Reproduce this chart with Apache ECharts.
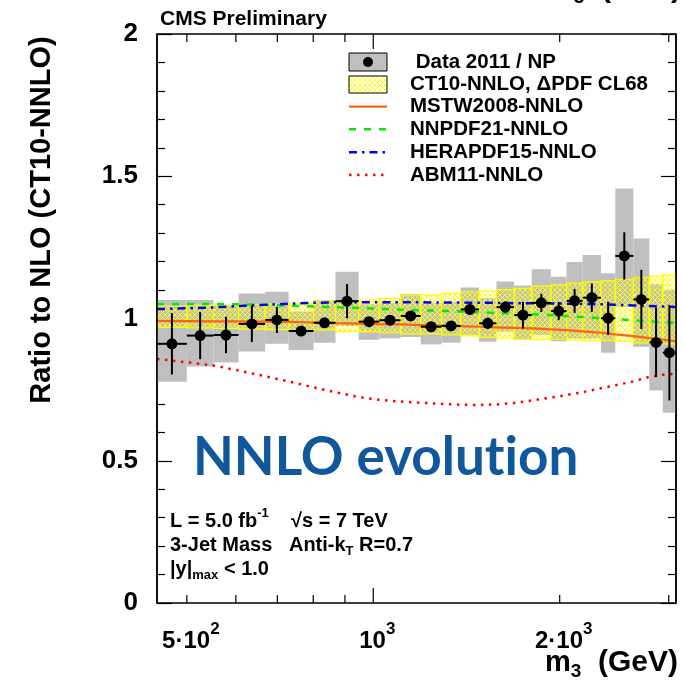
<!DOCTYPE html>
<html><head><meta charset="utf-8">
<script src="https://cdn.jsdelivr.net/npm/echarts@6/dist/echarts.min.js"></script>
<style>html,body{margin:0;padding:0;background:#fff}#c{width:683px;height:688px}</style>
</head><body><div id="c"></div>
<script>
// ---------------- data ----------------
const binEdges = [447.5, 500, 552, 606, 669, 730, 801, 869, 947, 1023, 1107, 1193, 1289, 1384, 1482, 1581, 1688, 1803, 1935, 2052, 2178, 2332, 2459, 2630, 2791, 2934, 3082];
const dataRatio = [0.911, 0.940, 0.942, 0.981, 0.995, 0.956, 0.985, 1.061, 0.989, 0.994, 1.009, 0.971, 0.974, 1.032, 0.983, 1.040, 1.012, 1.055, 1.026, 1.062, 1.073, 1.001, 1.220, 1.067, 0.916, 0.880];
const statErr = [0.108, 0.083, 0.064, 0.064, 0.046, 0.015, 0.015, 0.060, 0.015, 0.015, 0.018, 0.015, 0.015, 0.020, 0.020, 0.020, 0.047, 0.032, 0.032, 0.042, 0.050, 0.058, 0.083, 0.104, 0.122, 0.168];
const sysUp = [1.065, 1.065, 1.047, 1.088, 1.094, 1.025, 1.065, 1.164, 1.050, 1.055, 1.086, 1.054, 1.058, 1.109, 1.072, 1.130, 1.116, 1.173, 1.147, 1.199, 1.223, 1.159, 1.457, 1.281, 1.120, 1.100];
const sysLo = [0.778, 0.831, 0.845, 0.884, 0.911, 0.889, 0.915, 0.974, 0.925, 0.930, 0.935, 0.909, 0.915, 0.942, 0.918, 0.953, 0.925, 0.942, 0.920, 0.930, 0.930, 0.880, 1.040, 0.901, 0.747, 0.669];
const ct10Up = [1.044, 1.047, 1.047, 1.049, 1.051, 1.053, 1.061, 1.059, 1.065, 1.071, 1.082, 1.082, 1.088, 1.094, 1.096, 1.102, 1.106, 1.114, 1.118, 1.124, 1.129, 1.132, 1.138, 1.145, 1.149, 1.153];
const ct10Lo = [0.969, 0.967, 0.965, 0.963, 0.961, 0.957, 0.960, 0.954, 0.954, 0.950, 0.946, 0.946, 0.942, 0.939, 0.934, 0.931, 0.928, 0.926, 0.927, 0.925, 0.922, 0.922, 0.920, 0.914, 0.913, 0.911];

const curveMass = [447.5, 500, 552, 606, 669, 730, 801, 869, 947, 1023, 1107, 1193, 1289, 1384, 1482, 1581, 1688, 1803, 1935, 2052, 2178, 2332, 2459, 2630, 2791, 2934, 3082];
const mstw    = [0.992, 0.991, 0.990, 0.990, 0.989, 0.988, 0.986, 0.984, 0.982, 0.980, 0.979, 0.977, 0.975, 0.973, 0.971, 0.969, 0.967, 0.965, 0.962, 0.959, 0.955, 0.950, 0.944, 0.938, 0.931, 0.926, 0.920];
const nnpdf   = [1.051, 1.051, 1.051, 1.050, 1.048, 1.045, 1.042, 1.040, 1.037, 1.034, 1.031, 1.029, 1.027, 1.025, 1.022, 1.019, 1.017, 1.015, 1.012, 1.009, 1.005, 1.001, 0.998, 0.994, 0.990, 0.987, 0.985];
const herapdf = [1.033, 1.036, 1.039, 1.044, 1.048, 1.052, 1.055, 1.057, 1.057, 1.057, 1.057, 1.057, 1.056, 1.056, 1.055, 1.055, 1.054, 1.054, 1.053, 1.052, 1.051, 1.050, 1.048, 1.046, 1.044, 1.042, 1.040];
const abm     = [0.858, 0.846, 0.835, 0.817, 0.797, 0.779, 0.758, 0.741, 0.724, 0.714, 0.708, 0.704, 0.700, 0.697, 0.696, 0.698, 0.703, 0.712, 0.722, 0.731, 0.741, 0.755, 0.765, 0.779, 0.795, 0.802, 0.806];

const xMin = 447.5, xMax = 3082;
const xTickValues = [500, 600, 700, 800, 900, 1000, 2000, 3000];
const xMajorTicks = [1000];
const xLabelValues = [500, 1000, 2000];
const xLabelMant = ['5\u00b710', '10', '2\u00b710'];
const xLabelExp = ['2', '3', '3'];

const legendLabels = [' Data 2011 / NP', 'CT10-NNLO, \u0394PDF CL68', 'MSTW2008-NNLO', 'NNPDF21-NNLO', 'HERAPDF15-NNLO', 'ABM11-NNLO'];

// ---------------- helpers ----------------
const FAM = '"Liberation Sans", Arial, Helvetica, sans-serif';
const mctx = document.createElement('canvas').getContext('2d');
function tw(t, font) { mctx.font = font; return mctx.measureText(t).width; }
function run(pieces, x0, y0, align, color, z) {
  const fonts = pieces.map(p => 'bold ' + p.size + 'px ' + FAM);
  const widths = pieces.map((p, i) => tw(p.t, fonts[i]));
  const total = widths.reduce((a, b) => a + b, 0);
  let x = align === 'center' ? x0 - total / 2 : (align === 'right' ? x0 - total : x0);
  return pieces.map((p, i) => {
    const el = {type: 'text', x: x, y: y0 + (p.dy || 0), z: z || 10,
      style: {text: p.t, font: fonts[i], fill: color || '#000', textAlign: 'left', textVerticalAlign: 'middle', align: 'left', verticalAlign: 'middle'}};
    x += widths[i];
    return el;
  });
}

// hatch pattern
const pat = document.createElement('canvas'); pat.width = 5; pat.height = 5;
const pc = pat.getContext('2d'); pc.fillStyle = '#ffff00';
for (let i = 0; i < 5; i++) { pc.fillRect(i, i, 1, 1); pc.fillRect(4 - i, i, 1, 1); }
const hatch = {image: pat, repeat: 'repeat'};

// ---------------- series data ----------------
const nb = dataRatio.length;
const sysData = [], ctData = [], ptData = [];
for (let i = 0; i < nb; i++) {
  const lo = binEdges[i], hi = binEdges[i + 1];
  sysData.push([lo, hi, sysLo[i], sysUp[i]]);
  ctData.push([lo, hi, ct10Lo[i], ct10Up[i]]);
  ptData.push([Math.sqrt(lo * hi), dataRatio[i], statErr[i], lo, hi]);
}
const zip = (xs, ys) => xs.map((x, i) => [x, ys[i]]);

function boxRender(fill, stroke) {
  return function (params, api) {
    const p1 = api.coord([api.value(0), api.value(3)]);
    const p2 = api.coord([api.value(1), api.value(2)]);
    const st = {fill: fill};
    if (stroke) { st.stroke = stroke; st.lineWidth = 1.2; }
    return {type: 'rect', shape: {x: p1[0], y: p1[1], width: p2[0] - p1[0], height: p2[1] - p1[1]}, style: st};
  };
}

const yAxisCommon = {
  type: 'value', min: 0, max: 2, interval: 0.5,
  axisLine: {show: true, lineStyle: {color: '#000', width: 1.5}},
  axisTick: {show: true, inside: true, length: 15, lineStyle: {color: '#000', width: 1.2}},
  minorTick: {show: true, splitNumber: 5, length: 8, lineStyle: {color: '#000', width: 1.2}},
  splitLine: {show: false}, minorSplitLine: {show: false}
};

const option = {
  animation: false,
  backgroundColor: '#fff',
  grid: {left: 157, right: 7, top: 34, bottom: 85, show: false},
  xAxis: {type: 'log', logBase: 10, min: xMin, max: xMax,
    axisLine: {show: false}, axisTick: {show: false}, axisLabel: {show: false}, splitLine: {show: false}, minorTick: {show: false}},
  yAxis: [
    Object.assign({}, yAxisCommon, {position: 'left',
      axisLabel: {show: true, margin: 19, color: '#000', fontSize: 26, fontWeight: 'bold', fontFamily: FAM}}),
    Object.assign({}, yAxisCommon, {position: 'right', axisLabel: {show: false}})
  ],
  series: [
    {type: 'custom', name: 'sys', z: 1, clip: true, data: sysData, renderItem: boxRender('#bfbfbf'), encode: {x: [0, 1], y: [2, 3]}},
    {type: 'custom', name: 'CT10', z: 2, clip: true, data: ctData, renderItem: boxRender(hatch, '#ffff00'), encode: {x: [0, 1], y: [2, 3]}},
    {type: 'line', name: 'MSTW', z: 3, data: zip(curveMass, mstw), showSymbol: false, symbol: 'none',
      lineStyle: {color: '#ff6210', width: 2.2}},
    {type: 'line', name: 'NNPDF', z: 3, data: zip(curveMass, nnpdf), showSymbol: false, symbol: 'none',
      lineStyle: {color: '#00ee00', width: 2.5, type: [7, 8]}},
    {type: 'line', name: 'HERAPDF', z: 3, data: zip(curveMass, herapdf), showSymbol: false, symbol: 'none',
      lineStyle: {color: '#0000ff', width: 2.5, type: [8, 5, 2.5, 5]}},
    {type: 'line', name: 'ABM', z: 3, data: zip(curveMass, abm), showSymbol: false, symbol: 'none',
      lineStyle: {color: '#ff0000', width: 2.5, type: [2.5, 5.5]}},
    {type: 'custom', name: 'data', z: 5, clip: false, data: ptData, encode: {x: 0, y: 1},
      renderItem: function (params, api) {
        const c = api.coord([api.value(0), api.value(1)]);
        const l = api.coord([api.value(3), api.value(1)]);
        const h = api.coord([api.value(4), api.value(1)]);
        const t = api.coord([api.value(0), api.value(1) + api.value(2)]);
        const b = api.coord([api.value(0), api.value(1) - api.value(2)]);
        return {type: 'group', children: [
          {type: 'line', shape: {x1: l[0], y1: c[1], x2: h[0], y2: c[1]}, style: {stroke: '#000', lineWidth: 2}},
          {type: 'line', shape: {x1: c[0], y1: t[1], x2: c[0], y2: b[1]}, style: {stroke: '#000', lineWidth: 2}},
          {type: 'circle', shape: {cx: c[0], cy: c[1], r: 5.5}, style: {fill: '#000'}}
        ]};
      }},
    {type: 'custom', name: 'frame', z: 8, clip: false, data: [[xMin, 0, xMax, 2]], encode: {x: [0, 2], y: [1, 3]},
      renderItem: function (params, api) {
        const a = api.coord([api.value(0), api.value(3)]);
        const b = api.coord([api.value(2), api.value(1)]);
        return {type: 'rect', shape: {x: a[0], y: a[1], width: b[0] - a[0], height: b[1] - a[1]}, style: {fill: 'none', stroke: '#000', lineWidth: 1.5}};
      }},
    {type: 'custom', name: 'xticks', z: 8, clip: false, data: xTickValues.map(v => [v, 0]), encode: {x: 0, y: 1},
      renderItem: function (params, api) {
        const v = api.value(0);
        const bot = api.coord([v, 0]), top = api.coord([v, 2]);
        const len = xMajorTicks.indexOf(v) >= 0 ? 15 : 8;
        const ch = [
          {type: 'line', shape: {x1: bot[0], y1: bot[1], x2: bot[0], y2: bot[1] - len}, style: {stroke: '#000', lineWidth: 1.2}},
          {type: 'line', shape: {x1: top[0], y1: top[1], x2: top[0], y2: top[1] + len}, style: {stroke: '#000', lineWidth: 1.2}}
        ];
        const li = xLabelValues.indexOf(v);
        if (li >= 0) {
          const els = run([{t: xLabelMant[li], size: 24}, {t: xLabelExp[li], size: 17, dy: -12}], bot[0] + 4, bot[1] + 38, 'center');
          els.forEach(e => ch.push(e));
        }
        return {type: 'group', children: ch};
      }}
  ],
  graphic: []
};

const g = [];
// titles
g.push({type: 'text', x: 160, y: 19, style: {text: 'CMS Preliminary', font: 'bold 21px ' + FAM, fill: '#000', textAlign: 'left', textVerticalAlign: 'middle'}});
g.push({type: 'text', x: 42, y: 220, rotation: Math.PI / 2, style: {text: 'Ratio to NLO (CT10-NNLO)', font: 'bold 29px ' + FAM, fill: '#000', textAlign: 'center', textVerticalAlign: 'middle'}});
const xTitle = [{t: 'm', size: 29}, {t: '3', size: 19, dy: 9}, {t: '  (GeV)', size: 30}];
run(xTitle, 545, 663, 'left').forEach(e => g.push(e));
run(xTitle, 548, -11, 'left').forEach(e => g.push(e));
// annotations
run([{t: 'L = 5.0 fb', size: 20}, {t: '-1', size: 13, dy: -8}, {t: '    \u221as = 7 TeV', size: 20}], 170, 521, 'left').forEach(e => g.push(e));
run([{t: '3-Jet Mass   Anti-k', size: 20}, {t: 'T', size: 13, dy: 6}, {t: ' R=0.7', size: 20}], 170, 545, 'left').forEach(e => g.push(e));
run([{t: '|y|', size: 20}, {t: 'max', size: 13, dy: 6}, {t: ' < 1.0', size: 20}], 170, 569, 'left').forEach(e => g.push(e));
g.push({type: 'text', x: 193, y: 458, z: 10, style: {text: 'NNLO evolut\u200Cion', font: 'bold 53px Lato, "Open Sans", sans-serif', fill: '#11579b', textAlign: 'left', textVerticalAlign: 'middle'}});
// legend
const legY = [62, 84.5, 106.7, 129.3, 152.3, 175];
g.push({type: 'rect', z: 10, shape: {x: 349, y: 53, width: 38, height: 18}, style: {fill: '#bfbfbf', stroke: '#000', lineWidth: 1}});
g.push({type: 'circle', z: 11, shape: {cx: 368, cy: 62, r: 5}, style: {fill: '#000'}});
g.push({type: 'rect', z: 10, shape: {x: 349, y: 76, width: 38, height: 17}, style: {fill: hatch, stroke: '#000', lineWidth: 1}});
const legLine = [
  {c: '#ff6210', d: null, w: 2.2},
  {c: '#00ee00', d: [7, 8], w: 2.5},
  {c: '#0000ff', d: [8, 5, 2.5, 5], w: 2.5},
  {c: '#ff0000', d: [2.5, 5.5], w: 2.5}
];
legLine.forEach((l, i) => {
  const st = {stroke: l.c, lineWidth: l.w};
  if (l.d) st.lineDash = l.d;
  g.push({type: 'line', z: 10, shape: {x1: 349, y1: legY[i + 2], x2: 387, y2: legY[i + 2]}, style: st});
});
legendLabels.forEach((t, i) => {
  g.push({type: 'text', z: 10, x: 410, y: legY[i], style: {text: t, font: 'bold 20.5px ' + FAM, fill: '#000', textAlign: 'left', textVerticalAlign: 'middle'}});
});
option.graphic = g;

const chart = echarts.init(document.getElementById('c'), null, {renderer: 'canvas'});
chart.setOption(option);
</script></body></html>
